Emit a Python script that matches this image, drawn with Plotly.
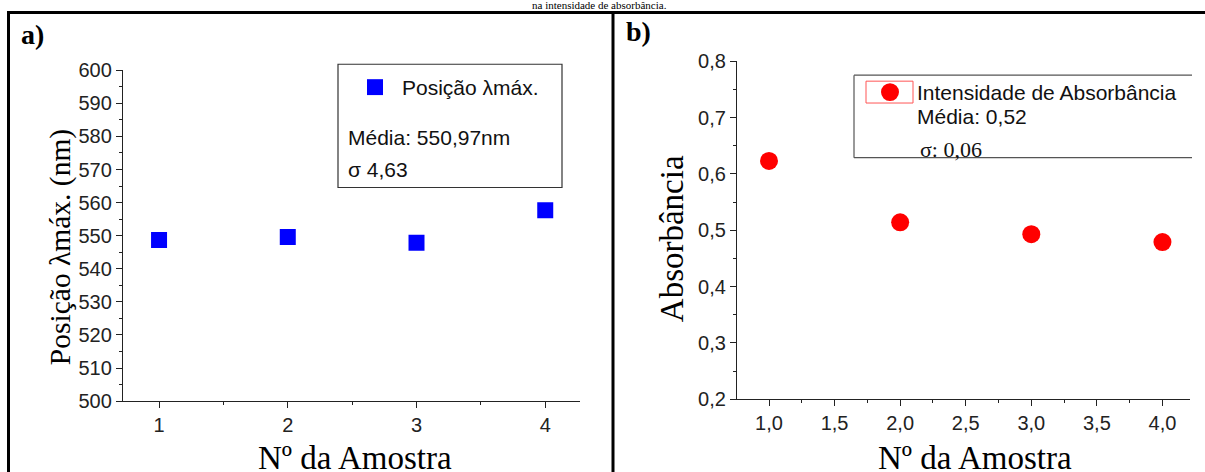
import plotly.graph_objects as go

W, H = 1205, 472

# ---- data ----
amostra = [1, 2, 3, 4]
posicao_lmax = [548.7, 549.6, 547.9, 557.7]
absorbancia = [0.623, 0.514, 0.493, 0.479]

serie_a = "Posição λmáx."
serie_b = "Intensidade de Absorbância"
media_a = "Média: 550,97nm"
sigma_a = "σ 4,63"
media_b = "Média: 0,52"
sigma_b = "σ: 0,06"
titulo_x = "Nº da Amostra"
titulo_ya = "Posição λmáx. (nm)"
titulo_yb = "Absorbância"
legenda_topo = "na intensidade de absorbância."

SANS = "Liberation Sans, Arial, sans-serif"
SERIF = "Liberation Serif, Times New Roman, serif"

# the captured picture maps page y -> 0.9593*y + 8.4; place things in page coords
SY, OY = 0.9593, 8.4

def px(x):
    return x / W

def Y(y_pic):
    return (y_pic - OY) / SY

def py(y_pic):
    return 1 - Y(y_pic) / H

fig = go.Figure()

fig.add_trace(go.Scatter(
    x=amostra, y=posicao_lmax, mode="markers", name=serie_a,
    marker=dict(symbol="square", size=16, color="#0000ff", line=dict(width=0)),
    xaxis="x", yaxis="y", showlegend=False,
))
fig.add_trace(go.Scatter(
    x=amostra, y=absorbancia, mode="markers", name=serie_b,
    marker=dict(symbol="circle", size=18, color="#ff0000", line=dict(width=0)),
    xaxis="x2", yaxis="y2", showlegend=False,
))

axis_common = dict(
    showgrid=False, zeroline=False, showline=True, linecolor="#222",
    linewidth=1.3, ticks="outside", ticklen=6, tickwidth=1.2, tickcolor="#222",
    tickfont=dict(family=SANS, size=20, color="#222"), mirror=False,
)
minor_common = dict(ticks="outside", ticklen=3, tickcolor="#222", tickwidth=1.2)

fig.update_layout(
    width=W, height=H, margin=dict(l=0, r=0, t=0, b=0),
    paper_bgcolor="white", plot_bgcolor="white",
    separators=",.",
    xaxis=dict(domain=[px(123), px(580)], range=[0.72, 4.27], anchor="y",
               tickvals=[1, 2, 3, 4], ticktext=["1", "2", "3", "4"],
               minor=dict(tickvals=[1.5, 2.5, 3.5], **minor_common),
               **axis_common),
    yaxis=dict(domain=[py(401), py(68)], range=[500, 600], anchor="x",
               dtick=10, tick0=500,
               minor=dict(dtick=5, **minor_common),
               **axis_common),
    xaxis2=dict(domain=[px(737), px(1190)], range=[0.756, 4.21], anchor="y2",
                dtick=0.5, tick0=1.0, tickformat=".1f",
                minor=dict(dtick=0.25, **minor_common),
                **axis_common),
    yaxis2=dict(domain=[py(399), py(59)], range=[0.2, 0.8], anchor="x2",
                dtick=0.1, tick0=0.2, tickformat=".1f",
                minor=dict(dtick=0.05, **minor_common),
                **axis_common),
)

shapes = []
line_k = dict(color="black", width=3)
def pline(x0, y0, x1, y1, line):
    shapes.append(dict(type="line", xref="paper", yref="paper",
                       x0=px(x0), x1=px(x1), y0=py(y0), y1=py(y1), line=line))

def prect(x0, y0, x1, y1, **kw):
    shapes.append(dict(type="rect", xref="paper", yref="paper",
                       x0=px(x0), x1=px(x1), y0=py(y1), y1=py(y0), **kw))

# outer table frame
pline(7, 10, 1205, 10, line_k)
pline(8.5, 9, 8.5, 474, line_k)
pline(613, 9, 613, 474, line_k)
# legend box a
prect(338, 62, 562, 186, line=dict(color="#333", width=1.2), fillcolor="rgba(0,0,0,0)")
# legend box b (open on the right)
lb = dict(color="#555", width=1.2)
pline(854, 73, 1192, 73, lb)
pline(854, 156, 1192, 156, lb)
pline(854, 73, 854, 156, lb)
# legend swatches
prect(367, 77, 383, 93, line=dict(width=0), fillcolor="#0000ff")
prect(866, 79, 913, 101, line=dict(color="#ff5555", width=1), fillcolor="rgba(0,0,0,0)")
shapes.append(dict(type="circle", xref="paper", yref="paper", x0=px(881), x1=px(899),
                   y0=py(99), y1=py(81), line=dict(width=0), fillcolor="#ff0000"))
fig.update_layout(shapes=shapes)

ann = []
def text(x, y, s, size, family, xanchor="left", yanchor="middle", angle=0, color="#111", bold=False):
    if bold:
        s = "<b>" + s + "</b>"
    ann.append(dict(x=px(x), y=py(y), xref="paper", yref="paper", text=s, showarrow=False,
                    xanchor=xanchor, yanchor=yanchor, textangle=angle, borderpad=0,
                    font=dict(family=family, size=size, color=color)))

text(20, 32, "a)", 28, SERIF, bold=True, color="black")
text(625, 29, "b)", 28, SERIF, bold=True, color="black")
text(599, 2.5, legenda_topo, 11, SERIF, xanchor="center", color="black")
text(401, 85, serie_a, 21, SANS)
text(347, 136, media_a, 21, SANS)
text(347, 168, sigma_a, 21, SANS)
text(916, 90, serie_b, 21, SANS)
text(916, 115, media_b, 21, SANS)
text(919, 148, sigma_b, 22, SERIF)
text(355, 458, titulo_x, 33, SERIF, xanchor="center", color="black")
text(975, 458, titulo_x, 33, SERIF, xanchor="center", color="black")
text(60, 246, titulo_ya, 29.5, SERIF, xanchor="center", angle=-90, color="black")
text(672, 238, titulo_yb, 33, SERIF, xanchor="center", angle=-90, color="black")
fig.update_layout(annotations=ann)

fig.write_html("out.html")
